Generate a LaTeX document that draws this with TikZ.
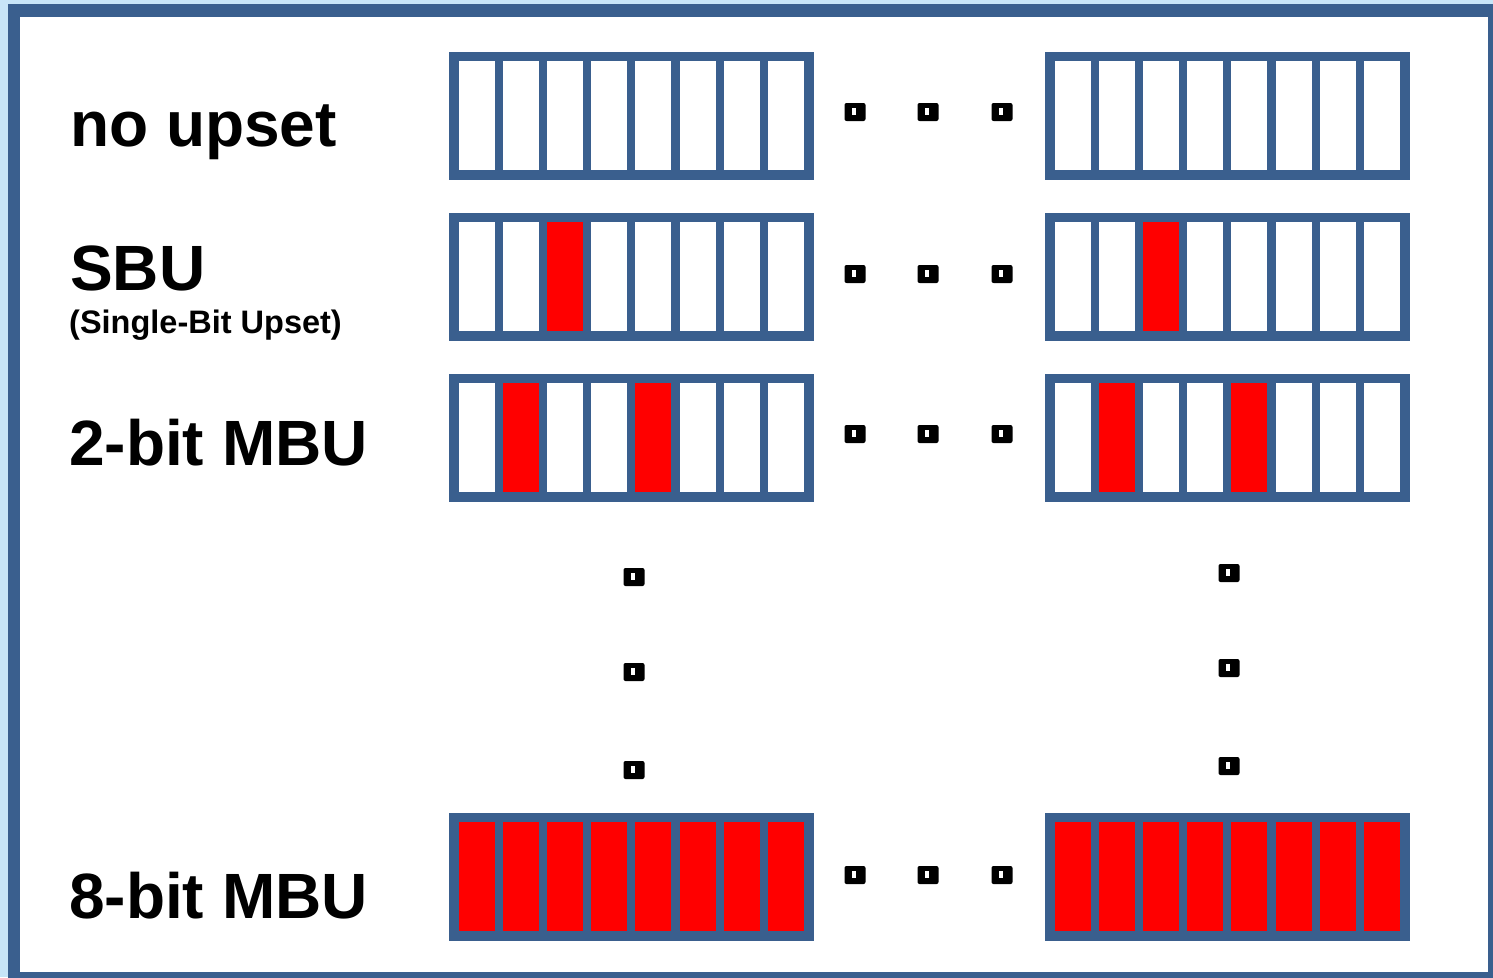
\documentclass[tikz,border=0pt]{standalone}
\usepackage{fontspec}
\setmainfont{Liberation Sans}
\definecolor{frameblue}{HTML}{3A5F8E}
\definecolor{skyblue}{HTML}{C8E5F7}
\definecolor{bitred}{HTML}{FF0000}

% an 8-bit register: top-left corner (#1,#2), cell colours #3
\newcommand{\bitregister}[3]{%
  \fill[frameblue] (#1,#2) rectangle ++(365,128);
  \foreach \c [count=\i from 0] in {#3}
    \fill[\c] (#1+10+44.1*\i, #2+9) rectangle ++(36,109);
}
% an ellipsis mark centred at (#1,#2)
\newcommand{\ellipsismark}[2]{%
  \fill[black, rounded corners=2pt] (#1-10.5,#2-9) rectangle (#1+10.5,#2+9);
  \fill[white] (#1-3.5,#2-4.5) rectangle (#1+0.5,#2+2.5);
}

\tikzset{
  rowlabel/.style={anchor=base west, inner sep=0pt, font=\bfseries\fontsize{64}{70}\selectfont},
  sublabel/.style={anchor=base west, inner sep=0pt, font=\bfseries\fontsize{32.5}{36}\selectfont}
}

\begin{document}
\begin{tikzpicture}[x=1pt, y=-1pt]
  \useasboundingbox (0,0) rectangle (1493,977);
  \fill[skyblue] (0,0) rectangle (1493,977);
  \begin{scope}
    \clip (0,0) rectangle (1493,977);
    \draw[frameblue, line width=12.5pt, fill=white] (14,10.5) rectangle (1494.5,978.5);
  \end{scope}

  % labels
  \node[rowlabel] (lnone) at (70,146) {no upset};
  \node[rowlabel] (lsbu) at (70,290) {SBU};
  \node[sublabel] (lsbulong) at (69,333) {(Single-Bit Upset)};
  \node[rowlabel] (ltwo) at (69,465) {2-bit MBU};
  \node[rowlabel] (leight) at (69,918) {8-bit MBU};

  % registers
  \def\W{white}\def\R{bitred}
  \bitregister{449}{52}{\W,\W,\W,\W,\W,\W,\W,\W}
  \bitregister{1045}{52}{\W,\W,\W,\W,\W,\W,\W,\W}
  \bitregister{449}{213}{\W,\W,\R,\W,\W,\W,\W,\W}
  \bitregister{1045}{213}{\W,\W,\R,\W,\W,\W,\W,\W}
  \bitregister{449}{374}{\W,\R,\W,\W,\R,\W,\W,\W}
  \bitregister{1045}{374}{\W,\R,\W,\W,\R,\W,\W,\W}
  \bitregister{449}{813}{\R,\R,\R,\R,\R,\R,\R,\R}
  \bitregister{1045}{813}{\R,\R,\R,\R,\R,\R,\R,\R}

  % horizontal ellipses between register pairs
  \foreach \y in {112,274,434,875}
    \foreach \x in {855,928,1002}
      \ellipsismark{\x}{\y};

  % vertical ellipses between row groups
  \foreach \y in {577,672,770}
    \ellipsismark{634}{\y};
  \foreach \y in {573,668,766}
    \ellipsismark{1229}{\y};
\end{tikzpicture}
\end{document}
